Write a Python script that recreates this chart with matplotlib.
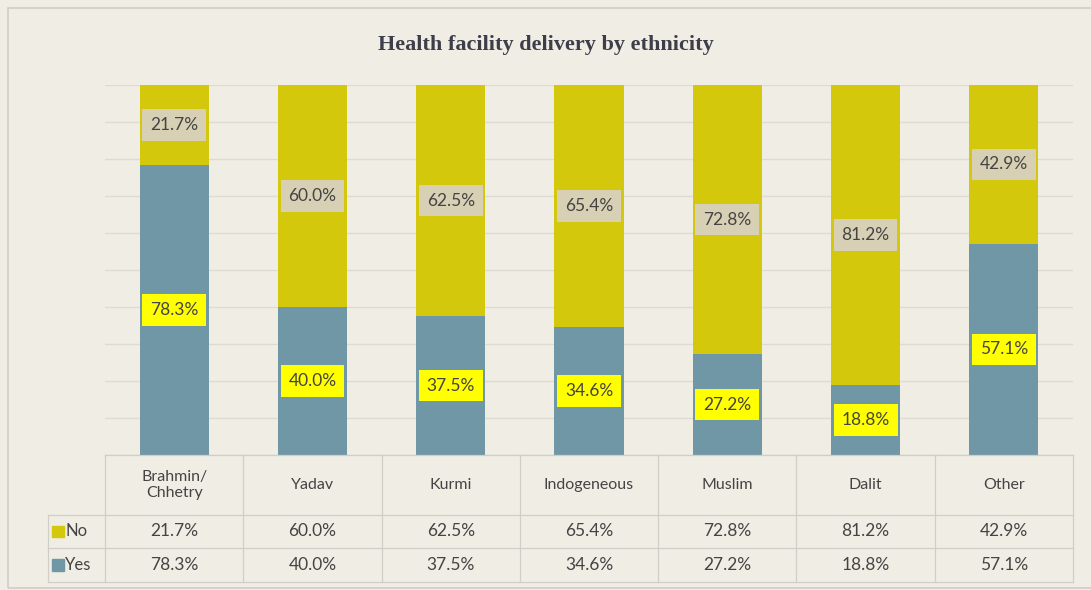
import numpy as np
import matplotlib.pyplot as plt
from matplotlib.patches import Rectangle

# data
groups = ['Brahmin/\nChhetry', 'Yadav', 'Kurmi', 'Indogeneous', 'Muslim', 'Dalit', 'Other']
no_pct = [21.7, 60.0, 62.5, 65.4, 72.8, 81.2, 42.9]
yes_pct = [78.3, 40.0, 37.5, 34.6, 27.2, 18.8, 57.1]

bg = '#f0eee4'
c_no = '#d4c80c'
c_yes = '#6f97a6'
txt = '#444444'
grid_c = '#dedcd2'
font = 'Lato'

fig = plt.figure(figsize=(10.91, 5.90), dpi=100, facecolor=bg)
fig.patches.append(Rectangle((8 / 1091, 2 / 590), 1.0, 580 / 590, transform=fig.transFigure,
                             fill=False, edgecolor='#cfcdc5', linewidth=1.2))
ax = fig.add_axes([105 / 1091, 1 - 455 / 590, 968 / 1091, 370 / 590])
ax.set_facecolor(bg)

x = np.arange(len(groups))
ax.bar(x, yes_pct, width=0.5, color=c_yes, zorder=2)
ax.bar(x, no_pct, width=0.5, bottom=yes_pct, color=c_no, zorder=2)

for i in range(len(groups)):
    ax.text(x[i], yes_pct[i] / 2, f'{yes_pct[i]:.1f}%', ha='center', va='center',
            fontsize=12.5, color=txt, family=font, zorder=3,
            bbox=dict(boxstyle='square,pad=0.45', fc='#ffff00', ec='none'))
    ax.text(x[i], yes_pct[i] + no_pct[i] / 2, f'{no_pct[i]:.1f}%', ha='center', va='center',
            fontsize=12.5, color=txt, family=font, zorder=3,
            bbox=dict(boxstyle='square,pad=0.45', fc='#d8d0b4', ec='none'))

ax.set_xlim(-0.5, len(groups) - 0.5)
ax.set_ylim(0, 100)
ax.set_yticks(np.arange(0, 101, 10))
ax.yaxis.grid(True, color=grid_c, linewidth=1, zorder=0)
ax.tick_params(left=False, bottom=False, labelleft=False, labelbottom=False)
for s in ax.spines.values():
    s.set_visible(False)

fig.text(0.5, 1 - 45 / 590, 'Health facility delivery by ethnicity', ha='center', va='center',
         fontsize=16, fontweight='bold', family='Liberation Serif', color='#3e3e4a')

# data table under the plot
tr = ax.get_xaxis_transform()
h_head = -60 / 370
h_no = h_head - 33 / 370
h_yes = h_no - 34 / 370
left = -0.5 - 57 / (968 / 7)
right = len(groups) - 0.5
line_kw = dict(color='#d0cec6', linewidth=0.9, transform=tr, clip_on=False)
ax.plot([-0.5, right], [0, 0], **line_kw)
for yy in (h_head, h_no, h_yes):
    ax.plot([left, right], [yy, yy], **line_kw)
for xx in np.arange(-0.5, right + 0.01, 1):
    ax.plot([xx, xx], [0, h_yes], **line_kw)
ax.plot([left, left], [h_head, h_yes], **line_kw)

for i, g in enumerate(groups):
    ax.text(x[i], h_head / 2, g, ha='center', va='center', fontsize=11.5, color=txt,
            family=font, transform=tr, linespacing=1.1)
    ax.text(x[i], (h_head + h_no) / 2, f'{no_pct[i]:.1f}%', ha='center', va='center',
            fontsize=12.5, color=txt, family=font, transform=tr)
    ax.text(x[i], (h_no + h_yes) / 2, f'{yes_pct[i]:.1f}%', ha='center', va='center',
            fontsize=12.5, color=txt, family=font, transform=tr)

for name, col, y0, y1 in (('No', c_no, h_head, h_no), ('Yes', c_yes, h_no, h_yes)):
    ym = (y0 + y1) / 2
    ax.add_patch(Rectangle((left + 0.03, ym - 0.016), 0.085, 0.032, color=col,
                           transform=tr, clip_on=False))
    ax.text(left + 0.125, ym, name, ha='left', va='center', fontsize=12, color=txt,
            family=font, transform=tr)

fig.savefig('out.png', dpi=100, facecolor=bg)
